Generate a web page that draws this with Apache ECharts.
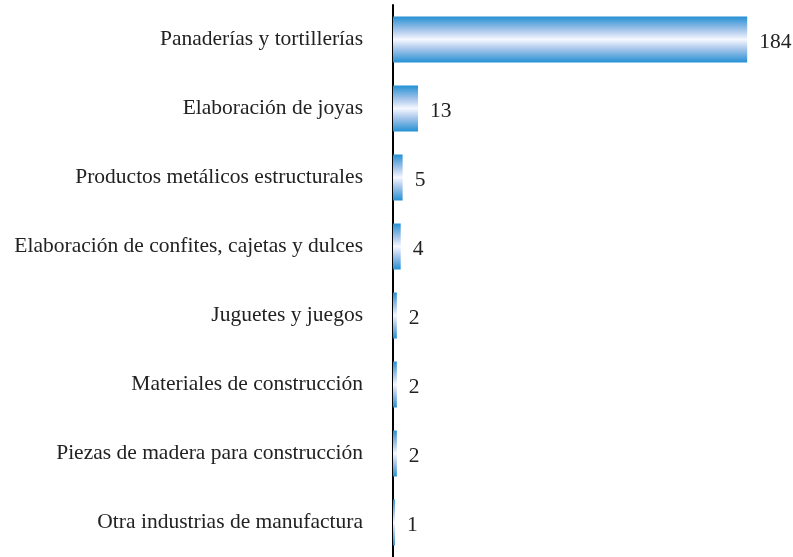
<!DOCTYPE html>
<html>
<head>
<meta charset="utf-8">
<script src="https://cdn.jsdelivr.net/npm/echarts@6/dist/echarts.min.js"></script>
<style>
  html, body { margin: 0; padding: 0; background: #fff; }
  #chart { width: 793px; height: 557px; }
</style>
</head>
<body>
<div id="chart"></div>
<script>
// categorias de arriba hacia abajo
var categories = [
    'Panaderías y tortillerías',
    'Elaboración de joyas',
    'Productos metálicos estructurales',
    'Elaboración de confites, cajetas y dulces',
    'Juguetes y juegos',
    'Materiales de construcción',
    'Piezas de madera para construcción',
    'Otra industrias de manufactura'
]
var values = [184, 13, 5, 4, 2, 2, 2, 1]

var barColor = new echarts.graphic.LinearGradient(0, 0, 0, 1, [
    { offset: 0, color: '#2490d4' },
    { offset: 0.3, color: '#a9c7eb' },
    { offset: 0.5, color: '#f6f8ff' },
    { offset: 0.7, color: '#a9c7eb' },
    { offset: 1, color: '#2490d4' }
])

var option = {
    animation: false,
    grid: { left: 393, right: 15, top: 5, bottom: 0 },
    xAxis: {
        type: 'value',
        min: 0,
        max: 200,
        show: false
    },
    yAxis: {
        type: 'category',
        inverse: true,
        data: categories,
        axisLine: { show: true, lineStyle: { color: '#000', width: 2 } },
        axisTick: { show: false },
        axisLabel: {
            margin: 30,
            padding: [2, 0, 0, 0],
            fontFamily: 'Liberation Serif',
            fontSize: 21.5,
            color: '#222'
        }
    },
    series: [
        {
            type: 'bar',
            data: values,
            barWidth: 46,
            itemStyle: { color: barColor },
            label: {
                show: true,
                position: 'right',
                distance: 12,
                offset: [0, 3],
                fontFamily: 'Liberation Serif',
                fontSize: 21.5,
                color: '#222'
            }
        }
    ]
}

var chart = echarts.init(document.getElementById('chart'))
chart.setOption(option)
</script>
</body>
</html>
